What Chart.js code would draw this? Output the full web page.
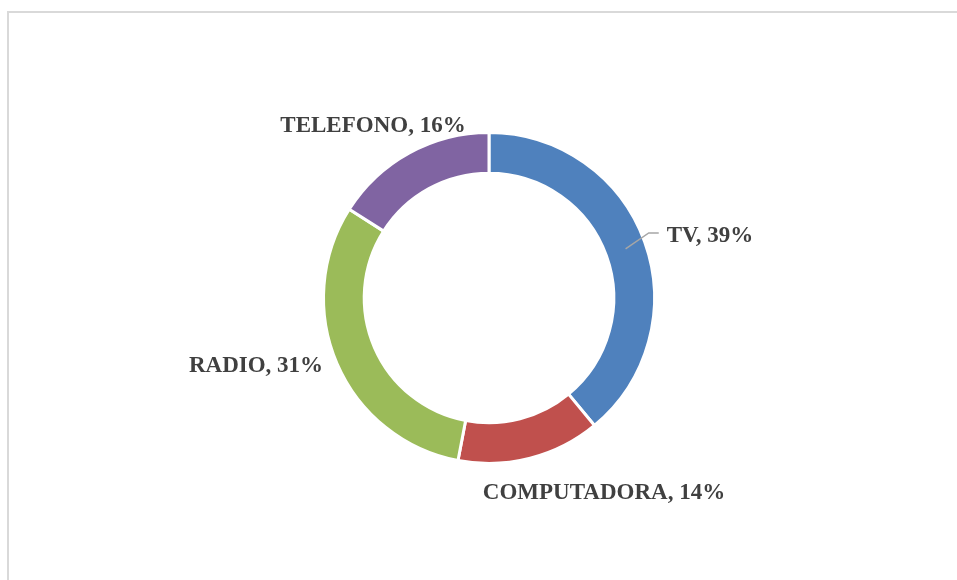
<!DOCTYPE html>
<html>
<head>
<meta charset="utf-8">
<script src="https://cdn.jsdelivr.net/npm/chart.js@4/dist/chart.umd.min.js"></script>
<style>
  html, body { margin: 0; padding: 0; background: #ffffff; overflow: hidden; }
  #wrap { position: relative; width: 957px; height: 580px; }
  #frame { position: absolute; left: 7px; top: 11px; width: 960px; height: 580px;
           border-left: 2px solid #d9d9d9; border-top: 2px solid #d9d9d9; box-sizing: border-box; }
  canvas { position: absolute; left: 0; top: 0; }
</style>
</head>
<body>
<div id="wrap">
  <div id="frame"></div>
  <canvas id="c" width="957" height="580"></canvas>
</div>
<script>
// ---- data ----
const categories = ["TV", "COMPUTADORA", "RADIO", "TELEFONO"];
const shares = [39, 14, 31, 16];

// ---- styles ----
const sliceColors = ["#4F81BD", "#C0504D", "#9BBB59", "#8064A2"];
// label text centre/baseline offsets from the doughnut centre (px)
const labelOffsets = [[221, -56], [115, 201], [-233, 74], [-116, -166]];
const leaderSlices = [true, false, false, false];

const labelPlugin = {
  id: 'sliceLabels',
  afterDatasetsDraw(chart) {
    const ctx = chart.ctx;
    const meta = chart.getDatasetMeta(0);
    const total = shares.reduce((a, b) => a + b, 0);
    ctx.save();
    ctx.font = 'bold 23px "Liberation Serif"';
    ctx.fillStyle = '#404040';
    ctx.textAlign = 'center';
    ctx.textBaseline = 'alphabetic';
    meta.data.forEach((arc, i) => {
      const p = arc.getProps(['x', 'y', 'startAngle', 'endAngle', 'innerRadius', 'outerRadius'], true);
      const pct = Math.round(shares[i] / total * 100);
      const text = categories[i] + ', ' + pct + '%';
      const lx = p.x + labelOffsets[i][0];
      const ly = p.y + labelOffsets[i][1];
      ctx.fillText(text, lx, ly);
      if (leaderSlices[i]) {
        const mid = (p.startAngle + p.endAngle) / 2;
        const r = (p.innerRadius + p.outerRadius) / 2;
        const sx = p.x + Math.cos(mid) * r;
        const sy = p.y + Math.sin(mid) * r;
        const w = ctx.measureText(text).width;
        const ex = lx - w / 2 - 8;
        const ey = ly - 9;
        ctx.beginPath();
        ctx.strokeStyle = '#a6a6a6';
        ctx.lineWidth = 1.5;
        ctx.moveTo(sx, sy);
        ctx.lineTo(ex - 10, ey);
        ctx.lineTo(ex, ey);
        ctx.stroke();
      }
    });
    ctx.restore();
  }
};

new Chart(document.getElementById('c'), {
  type: 'doughnut',
  data: {
    labels: categories,
    datasets: [{
      data: shares,
      backgroundColor: sliceColors,
      borderColor: '#ffffff',
      borderWidth: 3,
      hoverOffset: 0
    }]
  },
  options: {
    responsive: false,
    animation: false,
    cutout: '75.4%',
    layout: { padding: { top: 131, bottom: 115, left: 21, right: 0 } },
    plugins: {
      legend: { display: false },
      tooltip: { enabled: false }
    }
  },
  plugins: [labelPlugin]
});
</script>
</body>
</html>
